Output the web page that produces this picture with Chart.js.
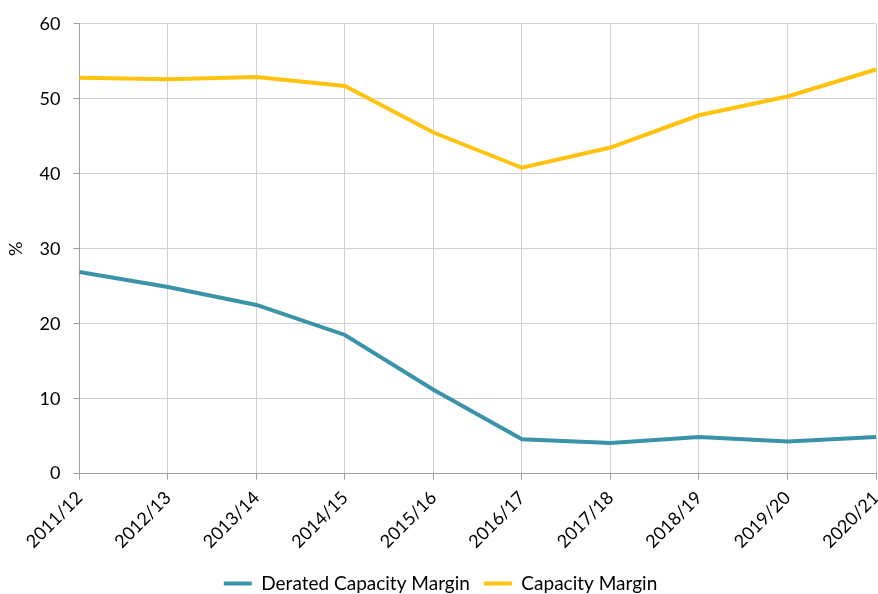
<!DOCTYPE html>
<html lang="en">
<head>
  <meta charset="UTF-8" />
  <title>Capacity margins</title>
  <script src="https://cdn.jsdelivr.net/npm/chart.js"></script>
  <style>
    html, body {
      margin: 0;
      padding: 0;
      background: #ffffff;
    }
    #wrap {
      width: 878px;
      height: 594px;
    }
  </style>
</head>
<body>

  <div id="wrap">
    <canvas id="margins"></canvas>
  </div>

  <script>
    const years = ["2011/12", "2012/13", "2013/14", "2014/15", "2015/16",
                   "2016/17", "2017/18", "2018/19", "2019/20", "2020/21"];
    const deratedMargin = [26.9, 24.9, 22.5, 18.5, 11.2, 4.6, 4.1, 4.9, 4.3, 4.9];
    const capacityMargin = [52.8, 52.6, 52.9, 51.7, 45.5, 40.8, 43.5, 47.8, 50.3, 53.9];
    const yTicks = [0, 10, 20, 30, 40, 50, 60];

    const fontFace = "Lato, 'DejaVu Sans', sans-serif";
    const textColor = "#000000";

    const ctx = document.getElementById("margins").getContext("2d");
    new Chart(ctx, {
      type: "line",
      data: {
        labels: years,
        datasets: [
          {
            label: "Derated Capacity Margin",
            data: deratedMargin,
            borderColor: "#3a93a8",
            backgroundColor: "#3a93a8",
            borderWidth: 4,
            pointRadius: 0,
            tension: 0
          },
          {
            label: "Capacity Margin",
            data: capacityMargin,
            borderColor: "#ffc20e",
            backgroundColor: "#ffc20e",
            borderWidth: 4,
            pointRadius: 0,
            tension: 0
          }
        ]
      },
      options: {
        responsive: true,
        maintainAspectRatio: false,
        animation: false,
        layout: { padding: { top: 22, right: 2, bottom: -9, left: 5 } },
        plugins: {
          tooltip: { enabled: false },
          legend: {
            position: "bottom",
            labels: {
              color: textColor,
              font: { family: fontFace, size: 19 },
              boxWidth: 28,
              boxHeight: 4,
              padding: 14,
              generateLabels(chart) {
                return Chart.defaults.plugins.legend.labels.generateLabels(chart).map(item => {
                  item.fillStyle = item.strokeStyle;
                  item.lineWidth = 0;
                  return item;
                });
              }
            }
          }
        },
        scales: {
          x: {
            grid: { color: "#d0d0d0", tickLength: 6, tickColor: "#a0a0a0" },
            border: { color: "#a0a0a0" },
            ticks: {
              color: textColor,
              font: { family: fontFace, size: 18 },
              maxRotation: 45,
              minRotation: 45,
              padding: 7.5
            },
            // the rotated last label ends at its tick, no extra room needed
            afterFit(axis) {
              axis.paddingRight = 0;
            }
          },
          y: {
            min: 0,
            max: 60,
            afterBuildTicks(axis) {
              axis.ticks = yTicks.map(v => ({ value: v }));
            },
            grid: { color: "#d0d0d0", tickLength: 6, tickColor: "#a0a0a0" },
            border: { color: "#a0a0a0" },
            ticks: {
              color: textColor,
              font: { family: fontFace, size: 18 },
              padding: 13
            },
            title: {
              display: true,
              text: "%",
              color: textColor,
              font: { family: fontFace, size: 18 },
              padding: { top: 0, bottom: 0 }
            }
          }
        }
      }
    });
  </script>

</body>
</html>
